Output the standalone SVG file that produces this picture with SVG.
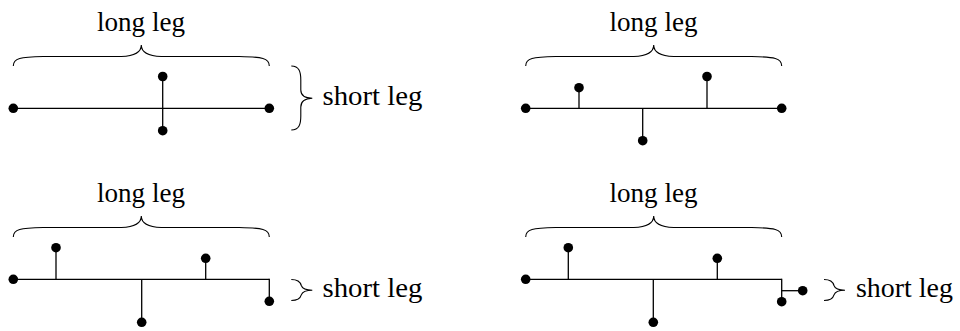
<svg xmlns="http://www.w3.org/2000/svg" width="960" height="331" viewBox="0 0 960 331">
<style>
.ln{stroke:#000;stroke-width:1.3;fill:none}
.br{stroke:#000;stroke-width:1.1;fill:none}
.dt{fill:#000}
.lb{font-family:"Liberation Serif","Times New Roman",serif;font-size:28px;fill:#000}
</style>
<defs>
<path id="hbrace" d="M0,21 C0,13 7,12 30,11.5 L108,11.5 C122,11 128,7 128,0 C128,7 134,11 148,11.5 L226,11.5 C249,12 256,13 256,21"/>
<path id="vbrace" d="M0,0 C8,0 9.5,6 9.5,14 L9.5,24 C9.5,29 13,32 21,32.3 C13,32.6 9.5,36 9.5,41 L9.5,50 C9.5,58 8,64 0,64"/>
<path id="sbrace" d="M0,0 C6,0 9,2 10,6 C11,9 14,10.7 21,10.7 C14,10.7 11,12.4 10,15.4 C9,19 6,21 0,21"/>
</defs>
<g id="connectors">
<g id="p1-lines">
<line class="ln" x1="13.3" y1="108.3" x2="269.3" y2="108.3"/>
<line class="ln" x1="162.7" y1="77" x2="162.7" y2="130.7"/>
</g>
<g id="p2-lines">
<line class="ln" x1="525.7" y1="108.3" x2="781.7" y2="108.3"/>
<line class="ln" x1="579" y1="87.7" x2="579" y2="108.3"/>
<line class="ln" x1="642.7" y1="108.3" x2="642.7" y2="140.7"/>
<line class="ln" x1="707" y1="77" x2="707" y2="108.3"/>
</g>
<g id="p3-lines">
<line class="ln" x1="13.3" y1="279.3" x2="269.3" y2="279.3"/>
<line class="ln" x1="56" y1="247.7" x2="56" y2="279.3"/>
<line class="ln" x1="141.7" y1="279.3" x2="141.7" y2="322.3"/>
<line class="ln" x1="205.7" y1="258.3" x2="205.7" y2="279.3"/>
<line class="ln" x1="269.3" y1="278.7" x2="269.3" y2="301.3"/>
</g>
<g id="p4-lines">
<line class="ln" x1="525.7" y1="279.3" x2="781.7" y2="279.3"/>
<line class="ln" x1="568.3" y1="247.7" x2="568.3" y2="279.3"/>
<line class="ln" x1="653.3" y1="279.3" x2="653.3" y2="322.3"/>
<line class="ln" x1="717.3" y1="258.3" x2="717.3" y2="279.3"/>
<line class="ln" x1="781.7" y1="278.7" x2="781.7" y2="301.7"/>
<line class="ln" x1="781.7" y1="290.7" x2="802.7" y2="290.7"/>
</g>
</g>
<g id="panel1">
<circle class="dt" cx="13.3" cy="108.3" r="4.8"/>
<circle class="dt" cx="269.3" cy="108.3" r="4.8"/>
<circle class="dt" cx="162.7" cy="76.5" r="4.8"/>
<circle class="dt" cx="162.7" cy="130.7" r="4.8"/>
<use href="#hbrace" class="br" x="13.3" y="45"/>
<text class="lb" x="97" y="31" textLength="88" lengthAdjust="spacingAndGlyphs">long leg</text>
<use href="#vbrace" class="br" x="291.3" y="66"/>
<text class="lb" x="322.5" y="105" textLength="100" lengthAdjust="spacingAndGlyphs">short leg</text>
</g>
<g id="panel2">
<circle class="dt" cx="525.7" cy="108.3" r="4.8"/>
<circle class="dt" cx="781.7" cy="108.3" r="4.8"/>
<circle class="dt" cx="579" cy="87.7" r="4.8"/>
<circle class="dt" cx="642.7" cy="140.7" r="4.8"/>
<circle class="dt" cx="707" cy="76.5" r="4.8"/>
<use href="#hbrace" class="br" x="525.7" y="45"/>
<text class="lb" x="609.5" y="31" textLength="88" lengthAdjust="spacingAndGlyphs">long leg</text>
</g>
<g id="panel3">
<circle class="dt" cx="13.3" cy="279.3" r="4.8"/>
<circle class="dt" cx="56" cy="247.7" r="4.8"/>
<circle class="dt" cx="141.7" cy="322.3" r="4.8"/>
<circle class="dt" cx="205.7" cy="258.3" r="4.8"/>
<circle class="dt" cx="269.3" cy="301.3" r="4.8"/>
<use href="#hbrace" class="br" x="13.3" y="216"/>
<text class="lb" x="97" y="202" textLength="88" lengthAdjust="spacingAndGlyphs">long leg</text>
<use href="#sbrace" class="br" x="291.3" y="279.5"/>
<text class="lb" x="322.5" y="297" textLength="100" lengthAdjust="spacingAndGlyphs">short leg</text>
</g>
<g id="panel4">
<circle class="dt" cx="525.7" cy="279.3" r="4.8"/>
<circle class="dt" cx="568.3" cy="247.7" r="4.8"/>
<circle class="dt" cx="653.3" cy="322.3" r="4.8"/>
<circle class="dt" cx="717.3" cy="258.3" r="4.8"/>
<circle class="dt" cx="781.7" cy="301.7" r="4.8"/>
<circle class="dt" cx="802.7" cy="290.7" r="4.8"/>
<use href="#hbrace" class="br" x="525.7" y="216"/>
<text class="lb" x="609.5" y="202" textLength="88" lengthAdjust="spacingAndGlyphs">long leg</text>
<use href="#sbrace" class="br" x="824" y="279.5"/>
<text class="lb" x="856" y="297" textLength="97" lengthAdjust="spacingAndGlyphs">short leg</text>
</g>
</svg>
